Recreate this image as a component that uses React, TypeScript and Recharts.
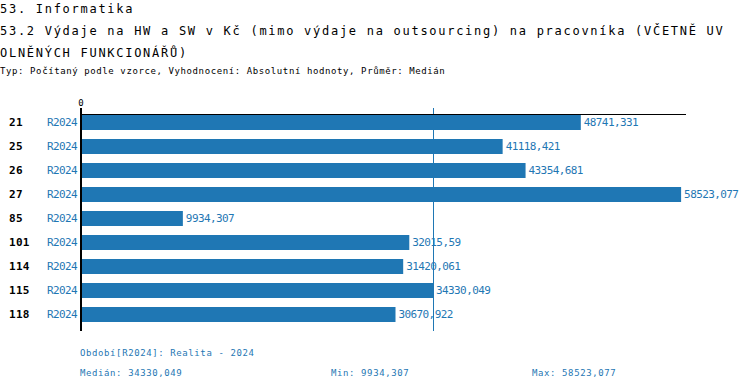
import { Bar, BarChart, CartesianGrid, LabelList, XAxis, YAxis } from "recharts";

const categories = ["21", "25", "26", "27", "85", "101", "114", "115", "118"];
const values = [48741.331, 41118.421, 43354.681, 58523.077, 9934.307, 32015.59, 31420.061, 34330.049, 30670.922];
const periodLabel = "R2024";
const median = 34330.049;
const minValue = 9934.307;
const maxValue = 58523.077;
const xTicks = [0, median];

const blue = "#1f77b4";
const mono = "'DejaVu Sans Mono', 'Liberation Mono', monospace";

const data = categories.map((id, i) => ({ id, value: values[i] }));

const fmt = (v: number) => String(v).replace(".", ",");

function RowTick({ y, payload }: any) {
  return (
    <g>
      <text
        x={9}
        y={y}
        dy={4}
        fontFamily={mono}
        fontSize={11}
        fontWeight="bold"
        letterSpacing={0.3}
        fill="#000"
      >
        {payload.value}
      </text>
      <text
        x={77}
        y={y}
        dy={4}
        textAnchor="end"
        fontFamily={mono}
        fontSize={11}
        letterSpacing={-0.6}
        fill={blue}
      >
        {periodLabel}
      </text>
    </g>
  );
}

// zero tick gets the "0" label, median tick just the short blue stub above the axis
function TopTick({ x, y, payload }: any) {
  const isZero = payload.value === 0;
  return (
    <g>
      <line
        x1={x}
        x2={x}
        y1={y + 2}
        y2={y + 8}
        stroke={isZero ? "#000" : blue}
        strokeWidth={isZero ? 2 : 1}
        shapeRendering="crispEdges"
      />
      {isZero && (
        <text x={x} y={y} textAnchor="middle" fontFamily={mono} fontSize={9} fill="#000">
          0
        </text>
      )}
    </g>
  );
}

// median line only, drawn by the grid so it sits behind the bars
const medianOnly = ({ xAxis }: any) => {
  const s = xAxis && xAxis.scale;
  if (typeof s === "function") return [s(median)];
  if (s && typeof s.map === "function") return [s.map(median)];
  return [];
};

const textLine = (top: number, size: number, lh: number, spacing: number, color = "#000"): React.CSSProperties => ({
  position: "absolute",
  left: 0,
  top,
  fontFamily: mono,
  fontSize: size,
  lineHeight: `${lh}px`,
  letterSpacing: spacing,
  color,
  whiteSpace: "pre",
});

export default function App() {
  return (
    <div style={{ position: "absolute", left: 0, top: 0, width: 750, height: 390, background: "#fff", overflow: "hidden" }}>
      <div style={textLine(-2, 12, 22, 1.72)}>
        {"53. Informatika\n53.2 Výdaje na HW a SW v Kč (mimo výdaje na outsourcing) na pracovníka (VČETNĚ UV\nOLNĚNÝCH FUNKCIONÁŘŮ)"}
      </div>
      <div style={textLine(65, 9, 12, 0.6)}>
        Typ: Počítaný podle vzorce, Vyhodnocení: Absolutní hodnoty, Průměr: Medián
      </div>
      <div style={{ position: "absolute", left: 0, top: 0 }}>
        <BarChart
          width={750}
          height={390}
          data={data}
          layout="vertical"
          margin={{ top: 0, right: 64, bottom: 59, left: 0 }}
        >
          <CartesianGrid
            horizontal={false}
            stroke={blue}
            shapeRendering="crispEdges"
            verticalCoordinatesGenerator={medianOnly}
          />
          <XAxis
            type="number"
            orientation="top"
            domain={[0, 59000]}
            ticks={xTicks}
            height={114}
            tickSize={6}
            tickMargin={2}
            tickLine={false}
            tick={<TopTick />}
            axisLine={{ stroke: "#000", strokeWidth: 1, shapeRendering: "crispEdges" }}
          />
          <YAxis
            type="category"
            dataKey="id"
            width={81}
            padding={{ top: -4, bottom: 5 }}
            tickLine={false}
            tick={<RowTick />}
            axisLine={{ stroke: "#000", strokeWidth: 2 }}
          />
          <Bar dataKey="value" fill={blue} barSize={15} isAnimationActive={false}>
            <LabelList
              dataKey="value"
              position="right"
              offset={3}
              formatter={(v: any) => fmt(Number(v))}
              style={{ fontFamily: mono, fontSize: 11, letterSpacing: -0.6, fill: blue }}
            />
          </Bar>
        </BarChart>
      </div>
      <div style={{ ...textLine(347, 9, 12, 0.6, blue), left: 80 }}>Období[R2024]: Realita - 2024</div>
      <div style={{ ...textLine(367, 9, 12, 0.6, blue), left: 80 }}>Medián: {fmt(median)}</div>
      <div style={{ ...textLine(367, 9, 12, 0.6, blue), left: 331 }}>Min: {fmt(minValue)}</div>
      <div style={{ ...textLine(367, 9, 12, 0.6, blue), left: 532 }}>Max: {fmt(maxValue)}</div>
    </div>
  );
}
